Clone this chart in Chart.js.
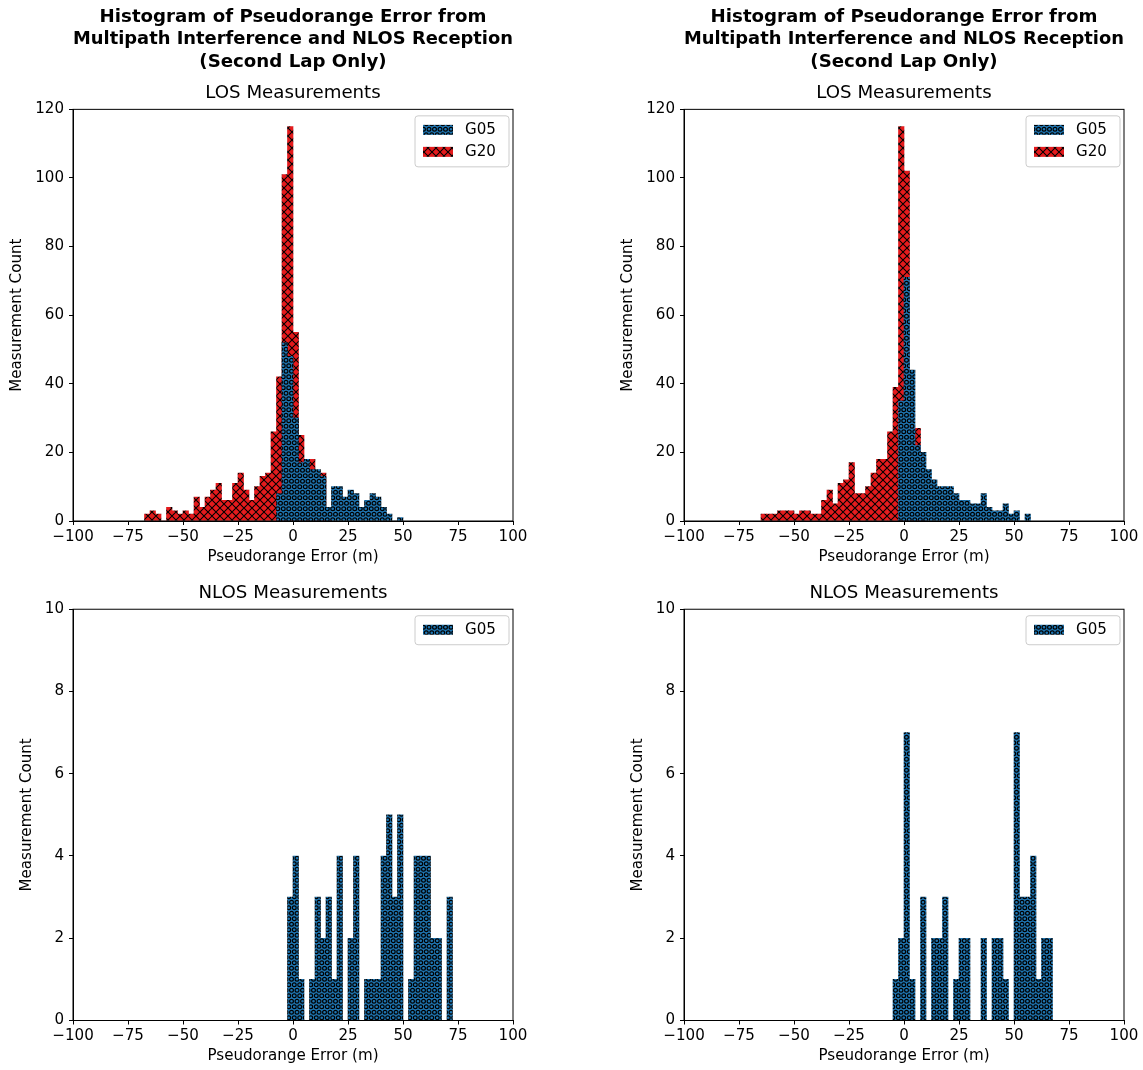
<!DOCTYPE html>
<html>
<head>
<meta charset="utf-8">
<script src="https://cdn.jsdelivr.net/npm/chart.js@4.4.0/dist/chart.umd.min.js"></script>
<style>
  body { margin: 0; background: #fff; }
  #fig { position: relative; width: 1143px; height: 1070px; overflow: hidden; }
  #fig canvas { position: absolute; }
</style>
</head>
<body>
<div id="fig">
  <canvas id="losLeft" width="571" height="575" style="left:0;top:0"></canvas>
  <canvas id="losRight" width="572" height="575" style="left:571px;top:0"></canvas>
  <canvas id="nlosLeft" width="571" height="495" style="left:0;top:575px"></canvas>
  <canvas id="nlosRight" width="572" height="495" style="left:571px;top:575px"></canvas>
</div>
<script>
// -------------------- DATA --------------------
// histogram bins are 2.5 m wide, arrays hold the left edge of each bin
const BIN_WIDTH = 2.5;

const titleLines = ["Histogram of Pseudorange Error from", "Multipath Interference and NLOS Reception", "(Second Lap Only)"];
const xTicks = [-100, -75, -50, -25, 0, 25, 50, 75, 100];

// LOS, left column
const losLeftG05Edges = [-7.5, -5, -2.5, 0, 2.5, 5, 7.5, 10, 12.5, 15, 17.5, 20, 22.5, 25, 27.5, 30, 32.5, 35, 37.5, 40, 42.5, 45, 47.5];
const losLeftG05Counts = [8, 52, 48, 30, 17, 18, 15, 15, 13, 4, 10, 10, 7, 9, 8, 4, 6, 8, 7, 4, 2, 0, 1];
const losLeftG20Edges = [-67.5, -65, -62.5, -60, -57.5, -55, -52.5, -50, -47.5, -45, -42.5, -40, -37.5, -35, -32.5, -30, -27.5, -25, -22.5, -20, -17.5, -15, -12.5, -10, -7.5, -5, -2.5, 0, 2.5, 5, 7.5, 10, 12.5, 15];
const losLeftG20Counts = [2, 3, 2, 0, 4, 3, 2, 3, 2, 7, 4, 7, 9, 11, 6, 6, 11, 14, 9, 6, 10, 13, 14, 26, 42, 101, 115, 55, 25, 14, 18, 12, 14, 3];

// LOS, right column
const losRightG05Edges = [-2.5, 0, 2.5, 5, 7.5, 10, 12.5, 15, 17.5, 20, 22.5, 25, 27.5, 30, 32.5, 35, 37.5, 40, 42.5, 45, 47.5, 50, 52.5, 55];
const losRightG05Counts = [35, 71, 44, 22, 20, 15, 12, 10, 10, 10, 8, 6, 6, 5, 5, 8, 4, 3, 3, 5, 2, 3, 0, 2];
const losRightG20Edges = [-65, -62.5, -60, -57.5, -55, -52.5, -50, -47.5, -45, -42.5, -40, -37.5, -35, -32.5, -30, -27.5, -25, -22.5, -20, -17.5, -15, -12.5, -10, -7.5, -5, -2.5, 0, 2.5, 5, 7.5];
const losRightG20Counts = [2, 2, 2, 3, 3, 3, 2, 3, 3, 2, 2, 6, 9, 5, 11, 12, 17, 8, 8, 10, 14, 18, 18, 26, 39, 115, 102, 25, 27, 12];

// NLOS
const nlosLeftG05Edges = [-2.5, 0, 2.5, 5, 7.5, 10, 12.5, 15, 17.5, 20, 22.5, 25, 27.5, 30, 32.5, 35, 37.5, 40, 42.5, 45, 47.5, 50, 52.5, 55, 57.5, 60, 62.5, 65, 67.5, 70];
const nlosLeftG05Counts = [3, 4, 1, 0, 1, 3, 2, 3, 1, 4, 0, 2, 4, 0, 1, 1, 1, 4, 5, 3, 5, 0, 1, 4, 4, 4, 2, 2, 0, 3];
const nlosRightG05Edges = [-5, -2.5, 0, 2.5, 5, 7.5, 10, 12.5, 15, 17.5, 20, 22.5, 25, 27.5, 30, 32.5, 35, 37.5, 40, 42.5, 45, 47.5, 50, 52.5, 55, 57.5, 60, 62.5, 65];
const nlosRightG05Counts = [1, 2, 7, 1, 0, 3, 0, 2, 2, 3, 0, 1, 2, 2, 0, 0, 2, 0, 2, 2, 1, 0, 7, 3, 3, 4, 1, 2, 2];

// -------------------- STYLE --------------------
Chart.defaults.font.family = "'DejaVu Sans', sans-serif";
Chart.defaults.color = "#000";

const FONT = 15.1;       // ticks, axis labels, legend
const TITLE_FONT = 18.2; // titles

const BLUE = "#1f77b4";
const RED = "#e41a1c";

function hatchPattern(kind, color) {
  let tile = document.createElement("canvas");
  let s = kind === "o" ? 11 : 8;
  tile.width = s;
  tile.height = s;
  let c = tile.getContext("2d");
  c.fillStyle = color;
  c.fillRect(0, 0, s, s);
  c.strokeStyle = "#000";
  if (kind === "o") {
    c.lineWidth = 1.2;
    let h = s / 2;
    [[h / 2, h / 2], [h / 2 + h, h / 2], [0, h / 2 + h], [h, h / 2 + h], [s, h / 2 + h]].forEach(p => {
      c.beginPath();
      c.arc(p[0], p[1], 1.9, 0, Math.PI * 2);
      c.stroke();
    });
  } else {
    c.lineWidth = 1.05;
    [-s, 0, s].forEach(o => {
      c.beginPath();
      c.moveTo(o, 0); c.lineTo(o + s, s);
      c.moveTo(o, s); c.lineTo(o + s, 0);
      c.stroke();
    });
  }
  return c.createPattern(tile, "repeat");
}

const blueHatch = hatchPattern("o", BLUE);
const redHatch = hatchPattern("x", RED);

// black box round the plot, like matplotlib spines
const axesFrame = {
  id: "axesFrame",
  afterDatasetsDraw(chart) {
    let { ctx, chartArea: a } = chart;
    ctx.save();
    ctx.strokeStyle = "#000";
    ctx.lineWidth = 1;
    ctx.strokeRect(a.left, a.top, a.right - a.left, a.bottom - a.top);
    ctx.restore();
  }
};

// legend inside the upper right corner, with the hatched swatches
const hatchLegend = {
  id: "hatchLegend",
  afterDraw(chart) {
    let { ctx, chartArea: a } = chart;
    let sets = chart.data.datasets;
    let w = 94, h = 7 + 22 * sets.length;
    let x = a.right - 4 - w, y = a.top + 6.5;
    ctx.save();
    ctx.beginPath();
    if (ctx.roundRect) ctx.roundRect(x, y, w, h, 3);
    else ctx.rect(x, y, w, h);
    ctx.fillStyle = "rgba(255,255,255,0.8)";
    ctx.fill();
    ctx.strokeStyle = "#cccccc";
    ctx.lineWidth = 1;
    ctx.stroke();
    ctx.font = FONT + "px 'DejaVu Sans'";
    ctx.textBaseline = "middle";
    sets.forEach((ds, i) => {
      let cy = y + 14 + 22 * i;
      ctx.fillStyle = ds.backgroundColor;
      ctx.fillRect(x + 8, cy - 5, 30, 10);
      ctx.fillStyle = "#000";
      ctx.fillText(ds.label, x + 50, cy);
    });
    ctx.restore();
  }
};

function minusSign(v) {
  return v < 0 ? "\u2212" + Math.abs(v) : String(v);
}

// -------------------- CHARTS --------------------
function histChart(id, cfg) {
  let datasets = cfg.series.map(s => ({
    label: s.label,
    data: s.edges.map((e, i) => ({ x: e + BIN_WIDTH / 2, y: s.counts[i] })),
    backgroundColor: s.pattern,
    borderWidth: 0,
    barPercentage: 1,
    categoryPercentage: 1,
    grouped: false
  }));

  return new Chart(document.getElementById(id), {
    type: "bar",
    data: { datasets: datasets },
    plugins: [axesFrame, hatchLegend],
    options: {
      responsive: false,
      animation: false,
      layout: { padding: cfg.pad },
      plugins: {
        legend: { display: false },
        tooltip: { enabled: false },
        title: cfg.title,
        subtitle: cfg.subtitle
      },
      scales: {
        x: {
          type: "linear",
          min: -100,
          max: 100,
          offset: false,
          afterBuildTicks: scale => { scale.ticks = xTicks.map(v => ({ value: v })); },
          ticks: { autoSkip: false, maxRotation: 0, padding: 3, font: { size: FONT }, callback: minusSign },
          grid: { offset: false, drawOnChartArea: false, tickLength: 4, tickColor: "#000" },
          border: { color: "#000" },
          title: { display: true, text: "Pseudorange Error (m)", font: { size: FONT }, padding: { top: 0, bottom: 1 } },
          afterFit: scale => { scale.height = 46; }
        },
        y: {
          min: 0,
          max: cfg.yMax,
          ticks: { stepSize: cfg.yStep, padding: 5, font: { size: FONT } },
          grid: { drawOnChartArea: false, tickLength: 4, tickColor: "#000" },
          border: { color: "#000" },
          title: { display: true, text: "Measurement Count", font: { size: FONT }, padding: { top: cfg.yTitlePad, bottom: 0 } },
          afterFit: scale => { scale.width = 66; }
        }
      }
    }
  });
}

const losTitle = {
  display: true, text: titleLines, fullSize: false,
  font: { size: TITLE_FONT, weight: "bold", lineHeight: 1.243 },
  padding: { top: 5.6, bottom: 4 }
};
const losSubtitle = {
  display: true, text: "LOS Measurements", fullSize: false,
  font: { size: TITLE_FONT, weight: "normal", lineHeight: 1.2 },
  padding: { top: 5.35, bottom: 4.7 }
};
const nlosTitle = {
  display: true, text: "NLOS Measurements", fullSize: false,
  font: { size: TITLE_FONT, weight: "normal", lineHeight: 1.2 },
  padding: { top: 7.2, bottom: 5.2 }
};

histChart("losLeft", {
  series: [
    { label: "G05", edges: losLeftG05Edges, counts: losLeftG05Counts, pattern: blueHatch },
    { label: "G20", edges: losLeftG20Edges, counts: losLeftG20Counts, pattern: redHatch }
  ],
  pad: { top: 0, left: 7, right: 58, bottom: 8 },
  title: losTitle, subtitle: losSubtitle,
  yMax: 120, yStep: 20, yTitlePad: 1
});

histChart("losRight", {
  series: [
    { label: "G05", edges: losRightG05Edges, counts: losRightG05Counts, pattern: blueHatch },
    { label: "G20", edges: losRightG20Edges, counts: losRightG20Counts, pattern: redHatch }
  ],
  pad: { top: 0, left: 47, right: 19, bottom: 8 },
  title: losTitle, subtitle: losSubtitle,
  yMax: 120, yStep: 20, yTitlePad: 1
});

histChart("nlosLeft", {
  series: [
    { label: "G05", edges: nlosLeftG05Edges, counts: nlosLeftG05Counts, pattern: blueHatch }
  ],
  pad: { top: 0, left: 7, right: 58, bottom: 3.5 },
  title: nlosTitle, subtitle: { display: false },
  yMax: 10, yStep: 2, yTitlePad: 11
});

histChart("nlosRight", {
  series: [
    { label: "G05", edges: nlosRightG05Edges, counts: nlosRightG05Counts, pattern: blueHatch }
  ],
  pad: { top: 0, left: 47, right: 19, bottom: 3.5 },
  title: nlosTitle, subtitle: { display: false },
  yMax: 10, yStep: 2, yTitlePad: 11
});
</script>
</body>
</html>
